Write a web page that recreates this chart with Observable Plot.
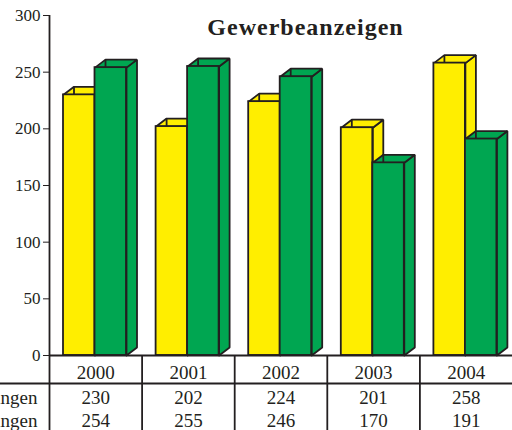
<!DOCTYPE html>
<html><head><meta charset="utf-8">
<script src="https://cdn.jsdelivr.net/npm/d3@7"></script>
<script src="https://cdn.jsdelivr.net/npm/@observablehq/plot@0.6"></script>
<style>
body{margin:0;background:#fff;}
#chart svg{overflow:hidden;}
g[font-weight="bold"] text{letter-spacing:1px;}
</style>
</head><body><div id="chart"></div>
<script>
// ---- data ----
const title = "Gewerbeanzeigen";
const years = ["2000","2001","2002","2003","2004"];
const seriesNames = ["Anmeldungen","Abmeldungen"];
const anmeldungen = [230,202,224,201,258];
const abmeldungen = [254,255,246,170,191];
const yTicks = [0,50,100,150,200,250,300];

// ---- layout ----
const W = 512, H = 430, mL = 49, mR = 0, mT = 15, mB = 75;
const yMax = 300;
const pxX = (W - mL - mR) / years.length;      // px per x unit (one band)
const pxY = (H - mT - mB) / yMax;              // px per y unit
const pad = 14 / pxX, bw = 31.5 / pxX;         // bar offset & width in x units
const ddx = 10.5 / pxX, ddy = 8 / pxY;         // 3D depth in data units
const yellow = "#FFEE00", green = "#00A651", ink = "#231F20";

function bars(values, k) {
  const fronts = [], sides = [], tops = [], inner = [];
  values.forEach((v, i) => {
    const x1 = i + pad + k * bw, x2 = x1 + bw;
    fronts.push({x1, x2, v});
    inner.push({xa: x1 + ddx, ya: v + ddy, xb: x1 + ddx, yb: v});
    [[x2,0],[x2+ddx,ddy],[x2+ddx,v+ddy],[x2,v],[x2,0]].forEach(([x,y]) => sides.push({id:i,x,y}));
    [[x1,v],[x1+ddx,v+ddy],[x2+ddx,v+ddy],[x2,v],[x1,v]].forEach(([x,y]) => tops.push({id:i,x,y}));
  });
  return {fronts, sides, tops, inner};
}
function barMarks(values, k, color) {
  const b = bars(values, k);
  return [
    Plot.line(b.sides, {x:"x", y:"y", z:"id", fill:color, stroke:ink, strokeWidth:1.8, strokeLinejoin:"miter"}),
    Plot.line(b.tops, {x:"x", y:"y", z:"id", fill:color, stroke:ink, strokeWidth:1.8, strokeLinejoin:"miter"}),
    Plot.link(b.inner, {x1:"xa", y1:"ya", x2:"xb", y2:"yb", stroke:ink, strokeWidth:1.8}),
    Plot.rect(b.fronts, {x1:"x1", x2:"x2", y1:0, y2:"v", fill:color, stroke:ink, strokeWidth:1.8})
  ];
}

const centers = years.map((_, i) => i + 0.5);
const fs = 19;

const chart = Plot.plot({
  width: W, height: H,
  marginLeft: mL, marginRight: mR, marginTop: mT, marginBottom: mB,
  style: {fontFamily: "'Liberation Serif', serif", fontSize: "17px", color: ink, background: "#fff"},
  x: {domain: [0, years.length], axis: null},
  y: {domain: [0, yMax], ticks: yTicks, tickSize: 6, tickPadding: 3, label: null},
  marks: [
    ...barMarks(anmeldungen, 0, yellow),
    ...barMarks(abmeldungen, 1, green),
    // axis line & baseline
    Plot.ruleX([0], {y1: 0, y2: yMax, stroke: ink, strokeWidth: 1.8}),
    Plot.ruleY([0], {stroke: ink, strokeWidth: 1.8}),
    // table grid
    Plot.ruleY([0], {dy: 28, insetLeft: -mL, stroke: ink, strokeWidth: 1.8}),
    Plot.ruleX(d3.range(years.length), {insetTop: H - mT - mB, insetBottom: -mB, stroke: ink, strokeWidth: 1.8}),
    // table text
    Plot.text(years, {x: (d, i) => centers[i], y: 0, text: d => d, dy: 17.5, fontSize: fs, fill: ink}),
    Plot.text(anmeldungen, {x: (d, i) => centers[i], y: 0, text: d => d, dy: 42, fontSize: fs, fill: ink}),
    Plot.text(abmeldungen, {x: (d, i) => centers[i], y: 0, text: d => d, dy: 65, fontSize: fs, fill: ink}),
    Plot.text(seriesNames, {x: 0, y: 0, text: d => d, dx: -12, dy: 42, textAnchor: "end", fontSize: fs, fill: ink, filter: (d, i) => i === 0}),
    Plot.text(seriesNames, {x: 0, y: 0, text: d => d, dx: -12, dy: 65, textAnchor: "end", fontSize: fs, fill: ink, filter: (d, i) => i === 1}),
    // title
    Plot.text([title], {frameAnchor: "top", text: d => d, dx: 24.5, dy: 2, lineAnchor: "top", fontSize: 24, fontWeight: "bold", fill: ink})
  ]
});
document.getElementById("chart").appendChild(chart);
</script>
</body></html>
